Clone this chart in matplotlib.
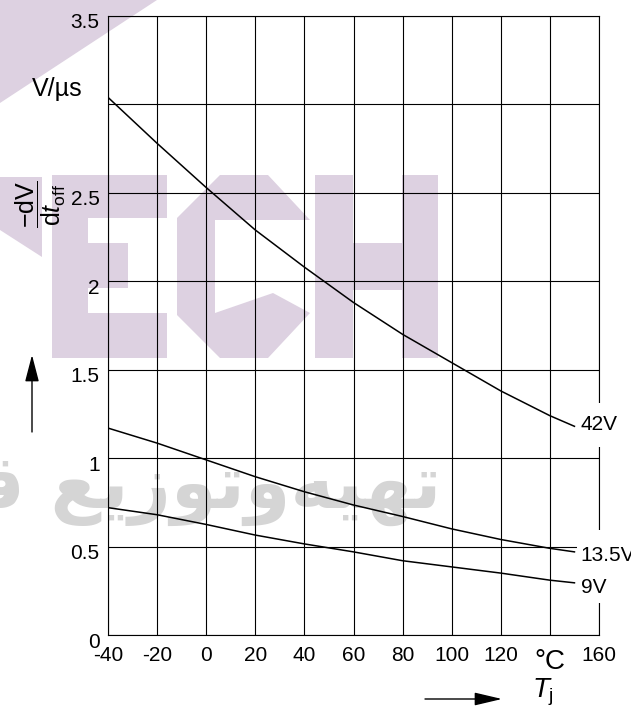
import numpy as np
import matplotlib
matplotlib.use("Agg")
import matplotlib.pyplot as plt
from matplotlib.patches import Polygon, Rectangle
from matplotlib.transforms import ScaledTranslation

plt.rcParams['font.family'] = ['Liberation Sans', 'DejaVu Sans']
plt.rcParams['mathtext.fontset'] = 'custom'
plt.rcParams['mathtext.rm'] = 'Liberation Sans'
plt.rcParams['mathtext.it'] = 'Liberation Sans:italic'

# junction temperature (°C)
tj = [-40, -20, 0, 20, 40, 60, 80, 100, 120, 140, 150]
# -dV/dt_off (V/us) for three supply voltages
v42 = [3.04, 2.78, 2.53, 2.29, 2.08, 1.88, 1.70, 1.54, 1.38, 1.24, 1.18]
v135 = [1.17, 1.085, 0.99, 0.895, 0.81, 0.735, 0.67, 0.60, 0.54, 0.49, 0.47]
v9 = [0.72, 0.68, 0.625, 0.565, 0.515, 0.47, 0.42, 0.385, 0.35, 0.31, 0.295]
curve_labels = ['42V', '13.5V', '9V']

xticks = [-40, -20, 0, 20, 40, 60, 80, 100, 120, 140, 160]
xticklabels = ['-40', '-20', '0', '20', '40', '60', '80', '100', '120', '°C', '160']
yticks = [0, 0.5, 1, 1.5, 2, 2.5, 3, 3.5]
yticklabels = ['0', '0.5', '1', '1.5', '2', '2.5', '', '3.5']

W, H = 631, 713
fig = plt.figure(figsize=(W / 100, H / 100), dpi=100)
fig.patch.set_facecolor('white')

# background layer in pixel coordinates (watermark, arrows)
bg = fig.add_axes([0, 0, 1, 1], zorder=0)
bg.set_xlim(0, W)
bg.set_ylim(H, 0)
bg.axis('off')

wm = '#ddd1e1'
shapes = [
    [(0, 0), (157, 0), (0, 103)],
    [(0, 177), (42, 177), (42, 257), (0, 230)],
    # E
    [(52, 175), (167, 175), (167, 218), (88, 218), (88, 243), (128, 243),
     (128, 288), (88, 288), (88, 313), (167, 313), (167, 358), (52, 358)],
    # C
    [(177, 218), (220, 175), (268, 175), (310, 220), (215, 220), (215, 313),
     (273, 293), (310, 313), (268, 358), (220, 358), (177, 315)],
    # H
    [(315, 175), (353, 175), (353, 243), (402, 243), (402, 175), (438, 175),
     (438, 358), (402, 358), (402, 290), (353, 290), (353, 358), (315, 358)],
]
for s in shapes:
    bg.add_patch(Polygon(s, closed=True, facecolor=wm, edgecolor='none'))

arabic = '\ufec4\ufed7 \ufeca\ufef3\ufeaf\ufeee\ufe97\ufeed\ufeea\ufef4\ufeec\ufe97'
bg.text(442, 508, arabic, ha='right', va='baseline', fontsize=53,
        fontweight='bold', color='#d5d5d5', family=['DejaVu Sans'], clip_on=True)

# axis arrows
bg.annotate('', xy=(32, 355), xytext=(32, 432),
            arrowprops=dict(arrowstyle='-|>,head_length=1.65,head_width=0.43',
                            mutation_scale=10, color='black', lw=1.0,
                            shrinkA=0, shrinkB=0))
bg.annotate('', xy=(502, 699), xytext=(425, 699),
            arrowprops=dict(arrowstyle='-|>,head_length=1.7,head_width=0.4',
                            mutation_scale=10, color='black', lw=1.0,
                            shrinkA=0, shrinkB=0))

# main chart
ax = fig.add_axes([108 / W, 1 - 635 / H, (599 - 108) / W, (635 - 16) / H], zorder=1)
ax.patch.set_facecolor('none')

for ys in (v42, v135, v9):
    ax.plot(tj, ys, color='black', lw=1.1, zorder=3)

ax.set_xlim(-40, 160)
ax.set_ylim(0, 3.5)
ax.set_xticks(xticks)
ax.set_xticklabels(xticklabels)
ax.set_yticks(yticks)
ax.set_yticklabels(yticklabels)
ax.tick_params(axis='both', length=0, labelsize=15)
ax.tick_params(axis='x', pad=8)
ax.tick_params(axis='y', pad=6)
ax.grid(True, color='black', lw=0.8)
for sp in ax.spines.values():
    sp.set_linewidth(0.8)

off = ScaledTranslation(0, -0.05, fig.dpi_scale_trans)
for lab in ax.get_yticklabels():
    lab.set_transform(lab.get_transform() + off)
degc = ax.get_xticklabels()[9]
degc.set_fontsize(20)
degc.set_transform(degc.get_transform() + ScaledTranslation(0, -0.03, fig.dpi_scale_trans))

# gaps in the right frame where the curve names sit
for lo, hi in ((1.063, 1.31), (0.18, 0.595)):
    ax.add_patch(Rectangle((151, lo), 14, hi - lo, facecolor='white',
                           edgecolor='none', zorder=4, clip_on=False))

ends = [v42[-1], v135[-1], v9[-1]]
ax.text(152.5, ends[0] + 0.01, curve_labels[0], fontsize=15, va='center', ha='left', zorder=5)
ax.text(152.5, ends[2] - 0.025, curve_labels[2], fontsize=15, va='center', ha='left', zorder=5)
ax.text(152.5, ends[1] - 0.02, curve_labels[1], fontsize=15, va='center', ha='left', zorder=6,
        bbox=dict(facecolor='white', edgecolor='none', pad=0.5), clip_on=False)

# axis titles
fig.text(57 / W, 1 - 89 / H, 'V/µs', fontsize=18, ha='center', va='center')
fig.text(41 / W, 1 - 204 / H, r'$\dfrac{\mathrm{-dV}}{\mathrm{d}t_{\mathrm{off}}}$',
         fontsize=18, rotation=90, ha='center', va='center')
fig.text(532 / W, 1 - 698 / H, r'$T_{\mathrm{j}}$', fontsize=20, ha='left', va='baseline')

fig.savefig('out.png', dpi=100)
